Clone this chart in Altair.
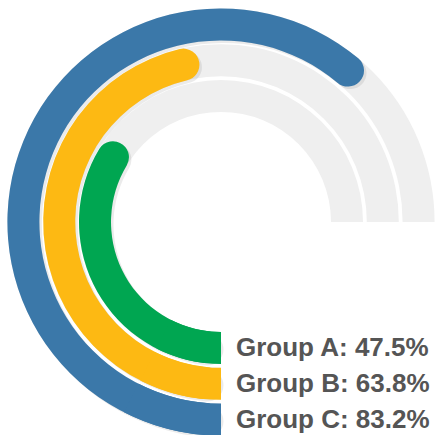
import math
import altair as alt
import pandas as pd

groups = ["Group A", "Group B", "Group C"]
values = [47.5, 63.8, 83.2]
rings = [0, 1, 2]
colors = ["#00A651", "#FDB913", "#3B78A9"]

df = pd.DataFrame({"group": groups, "value": values, "ring": rings, "color": colors})

CX, CY = 221, 222
R0, STEP, THICK = 110, 35.8, 32

base = alt.Chart(df).transform_calculate(
    r0=f"{R0} + datum.ring * {STEP}",
    r1=f"{R0} + datum.ring * {STEP} + {THICK}",
    rm=f"{R0} + datum.ring * {STEP} + {THICK / 2}",
    start="0",
    full="100",
    cap="min(datum.value, 10)",
    label="datum.group + ': ' + format(datum.value, '.1f') + '%'",
)

theta_scale = alt.Scale(domain=[0, 100], range=[math.pi, 2.5 * math.pi])

track = base.mark_arc(color="#EFEFEF").encode(
    theta=alt.Theta("start:Q", scale=theta_scale),
    theta2="full:Q",
    radius=alt.Radius("r0:Q", scale=None),
    radius2="r1:Q",
    x=alt.value(CX), y=alt.value(CY),
)

shadow = base.mark_arc(color="#000000", opacity=0.08, cornerRadius=16).encode(
    theta=alt.Theta("start:Q", scale=theta_scale),
    theta2="value:Q",
    radius=alt.Radius("r0:Q", scale=None),
    radius2="r1:Q",
    x=alt.value(CX + 2.5), y=alt.value(CY + 2.5),
)

bars = base.mark_arc(cornerRadius=16).encode(
    theta=alt.Theta("start:Q", scale=theta_scale),
    theta2="value:Q",
    radius=alt.Radius("r0:Q", scale=None),
    radius2="r1:Q",
    color=alt.Color("color:N", scale=None),
    x=alt.value(CX), y=alt.value(CY),
)

caps = base.mark_arc().encode(
    theta=alt.Theta("start:Q", scale=theta_scale),
    theta2="cap:Q",
    radius=alt.Radius("r0:Q", scale=None),
    radius2="r1:Q",
    color=alt.Color("color:N", scale=None),
    x=alt.value(CX), y=alt.value(CY),
)

labels = base.mark_text(
    align="left", baseline="middle", dx=15,
    font="Liberation Sans", fontWeight="bold", fontSize=26, color="#555555",
).encode(
    theta=alt.Theta("start:Q", scale=theta_scale),
    radius=alt.Radius("rm:Q", scale=None),
    text="label:N",
    x=alt.value(CX), y=alt.value(CY),
)

chart = alt.layer(track, shadow, bars, caps, labels).properties(
    width=436, height=435,
    autosize=alt.AutoSizeParams(type="none"),
    padding=0,
).configure_view(stroke=None)

chart.save("out.html", embed_options={"renderer": "svg", "actions": False})
